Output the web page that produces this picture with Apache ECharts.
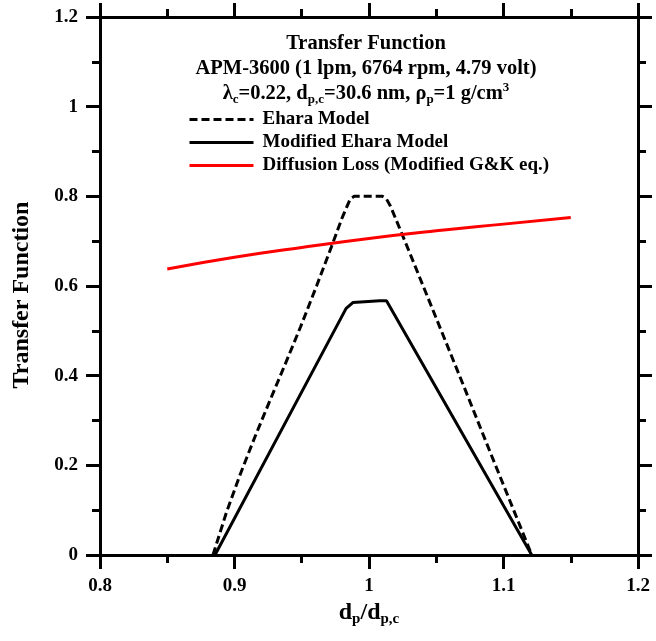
<!DOCTYPE html>
<html>
<head>
<meta charset="utf-8">
<title>Transfer Function</title>
<script src="https://cdn.jsdelivr.net/npm/echarts@6/dist/echarts.min.js"></script>
<style>
  html, body { margin: 0; padding: 0; background: #ffffff; }
  #chart { width: 656px; height: 641px; }
</style>
</head>
<body>
<div id="chart"></div>
<script>
// Axis ranges (d_p / d_p,c on x, transfer function on y)
const xMin = 0.8, xMax = 1.2, xStep = 0.1;
const yMin = 0, yMax = 1.2, yStep = 0.2;

// Ehara model (dashed)
const eharaX = [0.884, 0.894, 0.904, 0.915, 0.926, 0.938, 0.949, 0.961, 0.972, 0.980, 0.986, 0.989,
                1.010, 1.013, 1.016, 1.030, 1.050, 1.070, 1.090, 1.110, 1.121];
const eharaY = [0, 0.095, 0.178, 0.262, 0.342, 0.428, 0.508, 0.600, 0.687, 0.752, 0.794, 0.800,
                0.800, 0.794, 0.778, 0.676, 0.528, 0.380, 0.230, 0.082, 0];

// Modified Ehara model (solid black)
const modX = [0.8855, 0.983, 0.988, 1.008, 1.013, 1.121];
const modY = [0, 0.550, 0.563, 0.567, 0.567, 0];

// Diffusion loss, modified G&K equation (red)
const diffX = [0.85, 0.90, 0.95, 1.00, 1.05, 1.10, 1.15];
const diffY = [0.638, 0.664, 0.686, 0.706, 0.723, 0.738, 0.753];

const seriesNames = ['Ehara Model', 'Modified Ehara Model', 'Diffusion Loss (Modified G&K eq.)'];

const SERIF = "'Liberation Serif', 'Times New Roman', serif";
const pairs = (xs, ys) => xs.map((x, i) => [x, ys[i]]);

function axisFrame(extra) {
  return Object.assign({
    axisLine: { show: true, onZero: false, lineStyle: { color: '#000', width: 3 } },
    axisTick: { show: true, inside: false, length: 14, lineStyle: { color: '#000', width: 3 } },
    minorTick: { show: true, splitNumber: 2, length: 8, lineStyle: { color: '#000', width: 3 } },
    splitLine: { show: false },
    minorSplitLine: { show: false }
  }, extra);
}

const labelStyle = { color: '#000', fontFamily: SERIF, fontWeight: 'bold', fontSize: 19 };

const chart = echarts.init(document.getElementById('chart'), null, { renderer: 'canvas' });

chart.setOption({
  animation: false,
  backgroundColor: '#ffffff',
  grid: { left: 100, right: 18, top: 17, bottom: 86, containLabel: false },
  xAxis: [
    axisFrame({
      type: 'value', position: 'bottom', min: xMin, max: xMax, interval: xStep,
      axisLabel: Object.assign({ margin: 22 }, labelStyle),
      name: '{d|d}{s|p}{d|/d}{s|p,c}',
      nameLocation: 'middle', nameGap: 38,
      nameTextStyle: {
        color: '#000',
        rich: {
          d: { fontFamily: SERIF, fontWeight: 'bold', fontSize: 24, lineHeight: 28, color: '#000' },
          s: { fontFamily: SERIF, fontWeight: 'bold', fontSize: 15, lineHeight: 10, verticalAlign: 'bottom', color: '#000' }
        }
      }
    }),
    axisFrame({
      type: 'value', position: 'top', min: xMin, max: xMax, interval: xStep,
      axisLabel: { show: false }
    })
  ],
  yAxis: [
    axisFrame({
      type: 'value', position: 'left', min: yMin, max: yMax, interval: yStep,
      axisLabel: Object.assign({ margin: 22 }, labelStyle),
      name: 'Transfer Function', nameLocation: 'middle', nameGap: 66, nameRotate: 90,
      nameTextStyle: { color: '#000', fontFamily: SERIF, fontWeight: 'bold', fontSize: 24, padding: [0, 18, 0, 0] }
    }),
    axisFrame({
      type: 'value', position: 'right', min: yMin, max: yMax, interval: yStep,
      axisLabel: { show: false }
    })
  ],
  legend: {
    orient: 'vertical', left: 183, top: 105,
    itemWidth: 64, itemHeight: 14, itemGap: 4,
    data: seriesNames,
    itemStyle: { opacity: 0 },
    lineStyle: { width: 3 },
    textStyle: { color: '#000', fontFamily: SERIF, fontWeight: 'bold', fontSize: 19, padding: [0, 0, 0, 4] }
  },
  graphic: [{
    type: 'text', x: 366, y: 31, silent: true,
    style: {
      text: [
        '{t|Transfer Function}',
        '{t|APM-3600 (1 lpm, 6764 rpm, 4.79 volt)}',
        '{t|λ}{s|c}{t|=0.22, d}{s|p,c}{t|=30.6 nm, ρ}{s|p}{t|=1 g/cm}{u|3}'
      ].join('\n'),
      align: 'center', verticalAlign: 'top',
      fill: '#000',
      rich: {
        t: { fontFamily: SERIF, fontWeight: 'bold', fontSize: 20.5, lineHeight: 25, fill: '#000' },
        s: { fontFamily: SERIF, fontWeight: 'bold', fontSize: 13, lineHeight: 10, verticalAlign: 'bottom', fill: '#000' },
        u: { fontFamily: SERIF, fontWeight: 'bold', fontSize: 13, lineHeight: 14, verticalAlign: 'top', fill: '#000' }
      }
    }
  }],
  series: [
    {
      name: seriesNames[0], type: 'line', data: pairs(eharaX, eharaY),
      symbol: 'none', smooth: false,
      lineStyle: { color: '#000', width: 3, type: [8, 4] }, itemStyle: { color: '#000' }
    },
    {
      name: seriesNames[1], type: 'line', data: pairs(modX, modY),
      symbol: 'none', smooth: false,
      lineStyle: { color: '#000', width: 3, type: 'solid' }, itemStyle: { color: '#000' }
    },
    {
      name: seriesNames[2], type: 'line', data: pairs(diffX, diffY),
      symbol: 'none', smooth: true,
      lineStyle: { color: '#ff0000', width: 3, type: 'solid' }, itemStyle: { color: '#ff0000' }
    }
  ]
});
</script>
</body>
</html>
